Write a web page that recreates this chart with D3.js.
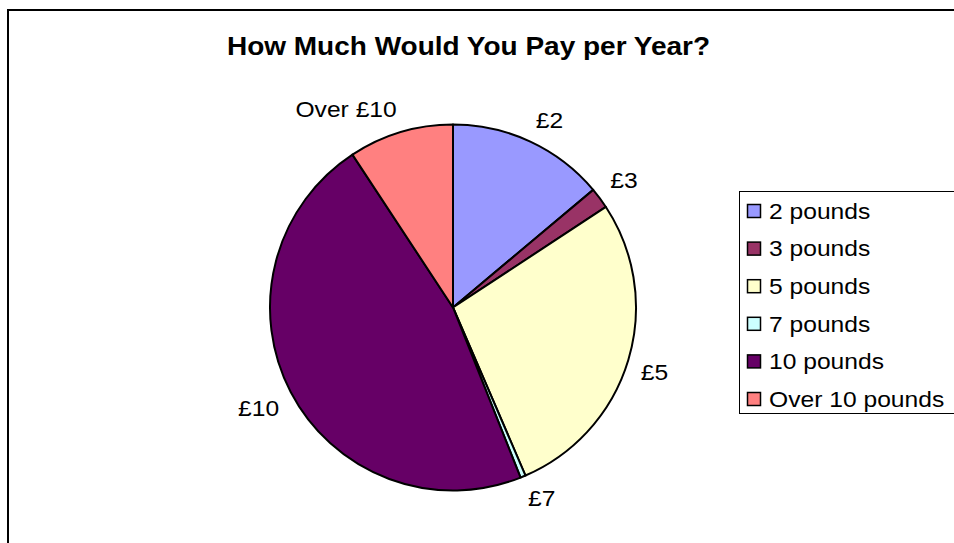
<!DOCTYPE html>
<html>
<head>
<meta charset="utf-8">
<script src="https://cdn.jsdelivr.net/npm/d3@7"></script>
<style>
  html, body { margin: 0; padding: 0; background: #fff; }
  svg { display: block; }
  text { font-family: "Liberation Sans", Arial, sans-serif; fill: #000; }
</style>
</head>
<body>
<svg id="chart" width="954" height="543"></svg>
<script>
// ---- data ----
const title = "How Much Would You Pay per Year?";
const categories = ["2 pounds", "3 pounds", "5 pounds", "7 pounds", "10 pounds", "Over 10 pounds"];
const sliceLabels = ["£2", "£3", "£5", "£7", "£10", "Over £10"];
const values = [30, 4, 60, 1, 101, 20];
const colors = ["#9999FF", "#993366", "#FFFFCC", "#CCFFFF", "#660066", "#FF8080"];

// ---- layout ----
const W = 954, H = 543;
const cx = 453, cy = 307.5, R = 183;
const stretch = 1.12;   // horizontal text stretch seen in the reference
const svg = d3.select("#chart");

svg.append("rect").attr("width", W).attr("height", H).attr("fill", "#fff");

// chart area border (cropped at right/bottom)
svg.append("rect")
  .attr("x", 8).attr("y", 10)
  .attr("width", W + 20).attr("height", H + 20)
  .attr("fill", "none").attr("stroke", "#000").attr("stroke-width", 2);

// title
svg.append("text")
  .attr("transform", `translate(468.5,55) scale(${stretch},1)`)
  .attr("text-anchor", "middle")
  .attr("font-size", 25)
  .attr("font-weight", "bold")
  .text(title);

const data = categories.map((c, i) => ({ cat: c, label: sliceLabels[i], value: values[i], color: colors[i] }));

const pie = d3.pie().sort(null).value(d => d.value).startAngle(0).endAngle(2 * Math.PI);
const arcs = pie(data);
const arc = d3.arc().innerRadius(0).outerRadius(R);

const g = svg.append("g").attr("transform", `translate(${cx},${cy})`);
g.selectAll("path.slice").data(arcs).enter().append("path")
  .attr("class", "slice")
  .attr("d", arc)
  .attr("fill", d => d.data.color)
  .attr("stroke", "#000")
  .attr("stroke-width", 2)
  .attr("stroke-linejoin", "round");

// slice labels
const labelR = 196, kx = 4, ky = 3;
const clamp = v => Math.max(-1, Math.min(1, v));
arcs.forEach(a => {
  const mid = (a.startAngle + a.endAngle) / 2;
  const s = Math.sin(mid), c = Math.cos(mid);
  const t = g.append("text")
    .attr("text-anchor", "middle")
    .attr("dy", "0.35em")
    .attr("font-size", 22)
    .text(a.data.label);
  const bb = t.node().getBBox();
  const w = bb.width * stretch, h = 20;
  const px = labelR * s + clamp(kx * s) * w / 2;
  const py = -labelR * c - clamp(ky * c) * h / 2;
  t.attr("transform", `translate(${px},${py}) scale(${stretch},1)`);
});

// legend
const lx = 739, ly = 191, rowH = 37.6;
const legend = svg.append("g");
legend.append("rect")
  .attr("x", lx + 0.5).attr("y", ly + 0.5)
  .attr("width", 260).attr("height", 222)
  .attr("fill", "#fff").attr("stroke", "#000").attr("stroke-width", 1);

const rows = legend.selectAll("g.row").data(data).enter().append("g")
  .attr("class", "row")
  .attr("transform", (d, i) => `translate(${lx},${ly + 20 + i * rowH})`);
rows.append("rect")
  .attr("x", 8.5).attr("y", -6.5)
  .attr("width", 13).attr("height", 13)
  .attr("fill", d => d.color)
  .attr("stroke", "#000").attr("stroke-width", 1.5);
rows.append("text")
  .attr("transform", `translate(30,0) scale(${stretch},1)`)
  .attr("dy", "0.35em")
  .attr("font-size", 22)
  .text(d => d.cat);
</script>
</body>
</html>
